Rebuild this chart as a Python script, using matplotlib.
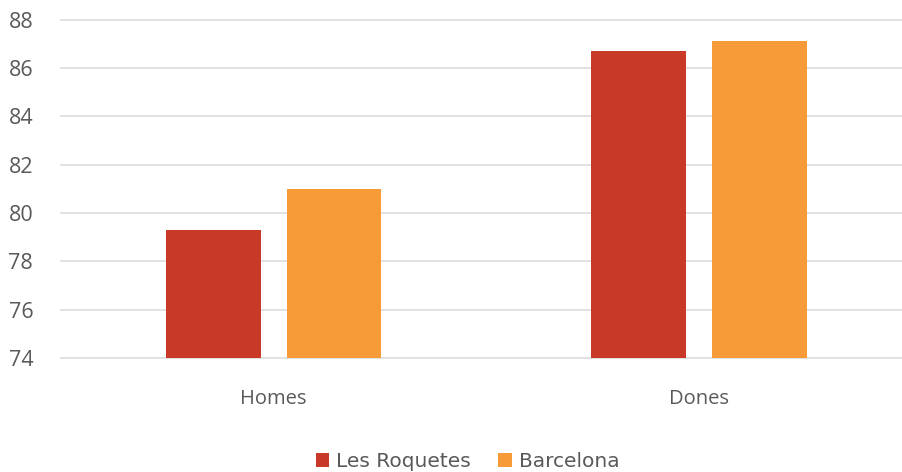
import numpy as np
from matplotlib import pyplot as plt

# Data
categories = ['Homes', 'Dones']
series_names = ['Les Roquetes', 'Barcelona']
roquetes = [79.3, 86.7]
barcelona = [81.0, 87.1]

colors = ['#C93928', '#F79B38']
text_color = '#595959'

fig = plt.figure(figsize=(9.03, 4.72), dpi=100)
ax = fig.add_axes([61 / 903, 1 - 358 / 472, 1 - 61 / 903, (358 - 19.5) / 472])

x = np.arange(len(categories))
width = 0.223
offset = 0.142

ax.bar(x - offset, roquetes, width, color=colors[0], label=series_names[0], zorder=3)
ax.bar(x + offset, barcelona, width, color=colors[1], label=series_names[1], zorder=3)

# Axes
ax.set_ylim(74, 88)
ax.set_xlim(-0.5, 1.48)
ax.set_yticks(np.arange(74, 89, 2))
ax.set_xticks(x)
ax.set_xticklabels(categories)
ax.yaxis.grid(True, color='#d9d9d9', linewidth=1.1, zorder=0)
for gl in ax.get_ygridlines():
	gl.set_clip_on(False)
for s in ax.spines.values():
	s.set_visible(False)
ax.tick_params(axis='both', length=0, colors=text_color)
ax.tick_params(axis='y', pad=20, labelsize=15.5)
ax.tick_params(axis='x', pad=22, labelsize=14.5)
for lab in ax.get_xticklabels() + ax.get_yticklabels():
	lab.set_family('Open Sans')

# Legend
fig.legend(loc='center', bbox_to_anchor=(0.518, 0.022), ncol=2, frameon=False,
		prop={'family': 'DejaVu Sans', 'size': 14.5}, labelcolor=text_color,
		handlelength=0.65, handleheight=0.65, handletextpad=0.35, columnspacing=1.35)

fig.savefig('out.png', dpi=100)
